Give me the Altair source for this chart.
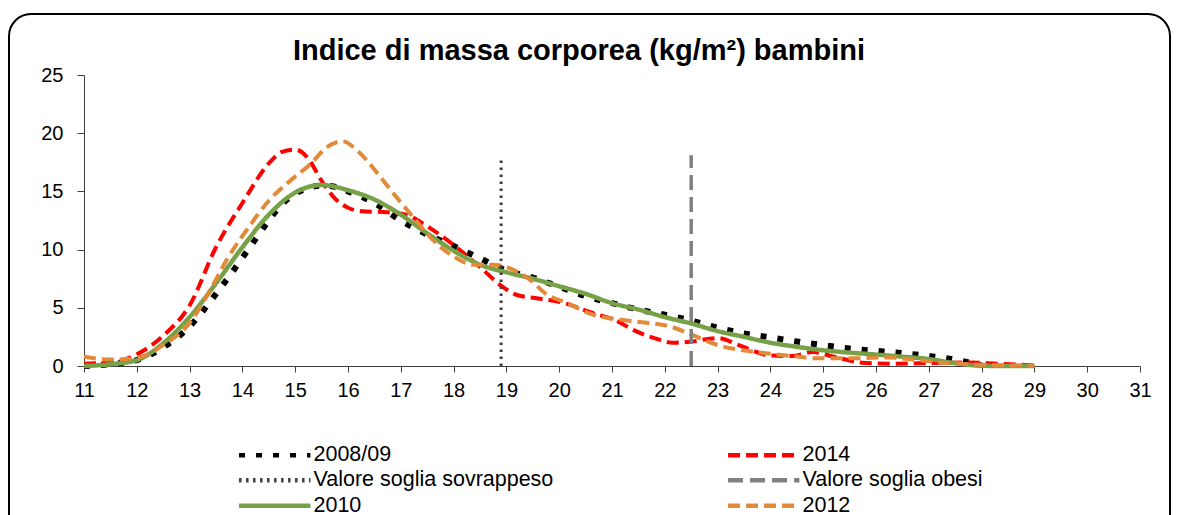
import altair as alt
import pandas as pd

# ---------------- data ----------------
# legend order (Vega fills the 2 columns top-to-bottom)
SERIES_ORDER = ["2008/09", "Valore soglia sovrappeso", "2010",
                "2014", "Valore soglia obesi", "2012"]

x_0809 = [11, 11.5, 12, 12.5, 13, 13.25, 13.5, 13.75, 14, 14.25, 14.5, 14.75,
          15, 15.25, 15.5, 15.75, 16, 16.5, 17, 17.5, 18, 18.5, 19, 19.5, 20,
          20.5, 21, 21.5, 22, 22.5, 23, 23.5, 24, 24.5, 25, 25.5, 26, 26.5,
          27, 27.5, 28]
y_0809 = [0, 0.15, 0.5, 1.6, 3.4, 4.7, 6.2, 7.7, 9.3, 10.9, 12.5, 13.9,
          14.8, 15.3, 15.5, 15.4, 15.0, 14.0, 12.5, 11.3, 10.3, 9.25, 8.2, 7.6,
          6.8, 6.0, 5.4, 4.85, 4.4, 3.9, 3.3, 2.8, 2.46, 2.1, 1.8, 1.5, 1.3,
          1.1, 0.86, 0.55, 0.05]

x_2014 = [11, 11.5, 12, 12.5, 13, 13.5, 14, 14.5, 14.75, 15, 15.25, 15.5,
          15.75, 16, 16.25, 16.75, 17.1, 17.5, 18, 18.5, 18.9, 19.2, 19.6,
          20.1, 20.6, 21.1, 21.4, 21.8, 22.15, 22.5, 23, 23.4, 24, 24.4, 24.8,
          25.2, 25.8, 26.3, 27, 27.7, 28.3, 29]
y_2014 = [0.2, 0.3, 1.0, 2.6, 5.2, 10.2, 14.0, 17.4, 18.4, 18.6, 17.8, 15.9,
          14.4, 13.6, 13.3, 13.2, 13.0, 12.0, 10.4, 8.5, 6.9, 6.1, 5.8, 5.4,
          4.6, 3.85, 3.1, 2.4, 2.0, 2.1, 2.4, 1.8, 0.9, 0.85, 1.2, 0.8, 0.25,
          0.2, 0.25, 0.3, 0.2, 0.05]

x_2010 = [11, 11.5, 12, 12.5, 13, 13.5, 14, 14.5, 15, 15.5, 16, 16.5, 17,
          17.5, 18, 18.5, 19, 19.5, 20, 20.5, 21, 21.5, 22, 22.5, 23, 23.5,
          24, 24.5, 25, 25.5, 26, 26.5, 27, 27.5, 28, 28.5, 29]
y_2010 = [0, 0.15, 0.5, 1.95, 4.2, 7.1, 10.2, 13.0, 14.9, 15.55, 15.1, 14.3,
          13.0, 11.4, 9.9, 8.7, 8.05, 7.5, 6.85, 6.2, 5.4, 4.85, 4.2, 3.65,
          3.0, 2.5, 2.0, 1.65, 1.35, 1.15, 0.98, 0.8, 0.6, 0.25, 0.02, 0, 0]

x_2012 = [11, 11.5, 12, 12.5, 13, 13.4, 13.7, 14.1, 14.5, 14.85, 15.3, 15.6,
          15.9, 16.2, 16.55, 16.9, 17.25, 17.55, 18, 18.4, 18.75, 19.05,
          19.45, 19.75, 20.15, 20.65, 21.2, 21.7, 22.1, 22.4, 22.66, 23, 23.4,
          23.9, 24.4, 24.9, 25.6, 26.2, 26.8, 27.5, 28.1, 29]
y_2012 = [0.8, 0.55, 0.7, 1.8, 3.7, 6.6, 9.1, 11.8, 14.2, 15.7, 17.4, 18.8,
          19.3, 18.4, 16.6, 14.6, 12.7, 11.1, 9.4, 8.7, 8.7, 8.4, 7.4, 6.2,
          5.4, 4.4, 3.95, 3.7, 3.4, 2.9, 2.4, 1.8, 1.4, 1.1, 0.86, 0.66, 0.66,
          0.74, 0.5, 0.2, 0.1, 0.02]

# threshold lines (x value, top of the line)
x_sovrappeso = [18.9, 18.9]
y_sovrappeso = [0, 17.7]
x_obesi = [22.5, 22.5]
y_obesi = [0, 18.1]

x_ticks = list(range(11, 32))
y_ticks = [0, 5, 10, 15, 20, 25]

TITLE = "Indice di massa corporea (kg/m\u00b2) bambini"

# ---------------- styles (same order as SERIES_ORDER) ----------------
FONT = "Liberation Sans"
colors = ["#000000", "#404040", "#77A146", "#FF0000", "#808080", "#E3893A"]
widths = [6, 3, 4.5, 4, 3.5, 4]
dashes = [[6, 11], [2.5, 4.5], [1, 0], [12, 6], [15, 7], [12, 6]]
WIDTH_OF = dict(zip(SERIES_ORDER, widths))

# ---------------- frames ----------------
def frame(name, xs, ys):
    return pd.DataFrame({"serie": name, "x": xs, "y": ys, "i": range(len(xs)),
                         "w": WIDTH_OF[name]})

curves = pd.concat([
    frame("2008/09", x_0809, y_0809),
    frame("2014", x_2014, y_2014),
    frame("2010", x_2010, y_2010),
    frame("2012", x_2012, y_2012),
], ignore_index=True)

thresholds = pd.concat([
    frame("Valore soglia sovrappeso", x_sovrappeso, y_sovrappeso),
    frame("Valore soglia obesi", x_obesi, y_obesi),
], ignore_index=True)

legend = alt.Legend(
    title=None, orient="none", legendX=180, legendY=369, columns=2,
    columnPadding=165, rowPadding=2.5, padding=0,
    symbolType="M-5.1,0H5.1", symbolSize=196, symbolStrokeWidth=4.5,
    labelOffset=28, labelFont=FONT, labelFontSize=21.5, labelColor="#000000",
    labelLimit=400)

color = alt.Color("serie:N", scale=alt.Scale(domain=SERIES_ORDER, range=colors),
                  legend=legend)
dash = alt.StrokeDash("serie:N", scale=alt.Scale(domain=SERIES_ORDER, range=dashes))
sw = alt.StrokeWidth("w:Q", scale=None)

xenc = alt.X("x:Q", scale=alt.Scale(domain=[11, 31], nice=False, zero=False),
             axis=alt.Axis(values=x_ticks, title=None, grid=False, tickSize=6,
                           labelFontSize=20, labelFont=FONT, labelColor="#000000",
                           labelPadding=8, domainColor="#404040",
                           tickColor="#404040", labelFlush=False))
yenc = alt.Y("y:Q", scale=alt.Scale(domain=[0, 25], nice=False),
             axis=alt.Axis(values=y_ticks, title=None, grid=False, tickSize=7,
                           labelFontSize=20, labelFont=FONT, labelColor="#000000",
                           labelPadding=14, domainColor="#404040",
                           tickColor="#404040"))

border = alt.Chart(pd.DataFrame({"a": [0]})).mark_rect(
    fill=None, stroke="#000000", strokeWidth=2, cornerRadius=22
).encode(x=alt.value(-75), x2=alt.value(1086), y=alt.value(-61), y2=alt.value(520))

lines = alt.Chart(curves).mark_line(interpolate="monotone").encode(
    x=xenc, y=yenc, color=color, strokeDash=dash, strokeWidth=sw,
    order=alt.Order("i:Q"))

thr = alt.Chart(thresholds).mark_line().encode(
    x="x:Q", y="y:Q", color="serie:N", strokeDash="serie:N",
    strokeWidth=sw, detail="serie:N", order=alt.Order("i:Q"))

chart = alt.layer(border, lines, thr).properties(
    width=1056, height=291,
    autosize=alt.AutoSizeParams(type="none"),
    padding={"left": 76, "top": 67, "right": 31, "bottom": 149},
    title=alt.TitleParams(TITLE, font=FONT, fontSize=29, fontWeight="bold",
                          color="#000000", anchor="middle", frame="group",
                          dx=-33, dy=80, offset=4, baseline="alphabetic"),
    background="#FFFFFF",
).configure_view(stroke=None)

chart.save("out.html", embed_options={"renderer": "svg", "actions": False})
